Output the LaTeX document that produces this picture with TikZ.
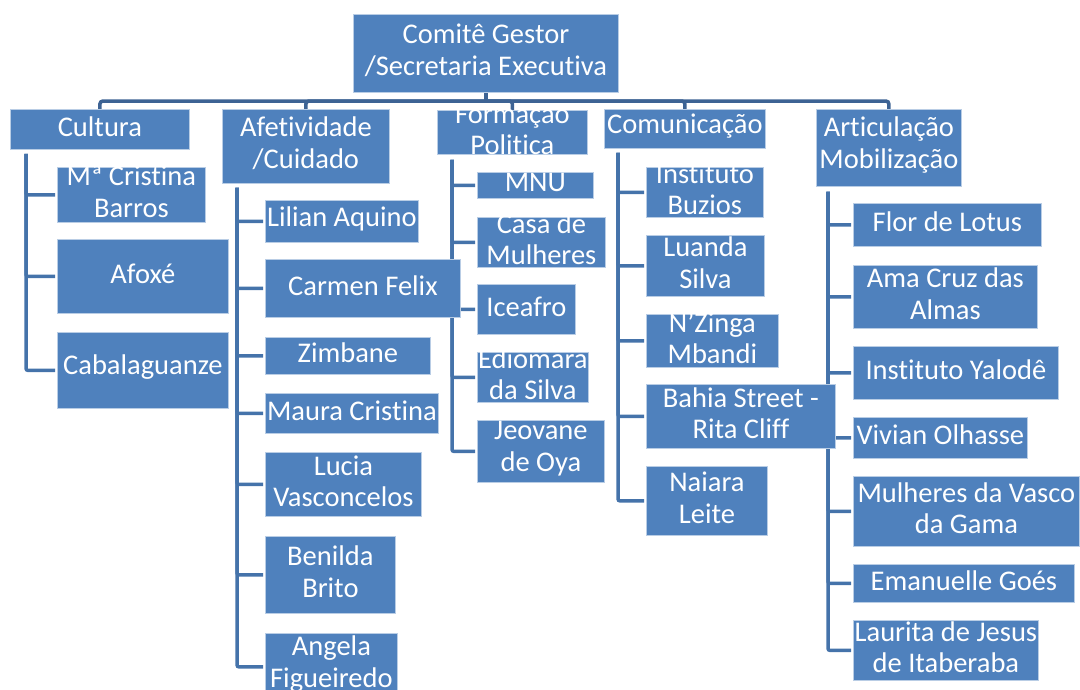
\documentclass[tikz,border=0pt]{standalone}
\usepackage{fontspec}
\setmainfont{Carlito}[Ligatures={NoCommon}]
\usepackage{tikz}
\usetikzlibrary{backgrounds}
\definecolor{boxblue}{HTML}{4F81BD}
\definecolor{boxedge}{HTML}{B9CDE5}
\definecolor{linkblue}{HTML}{4573AA}
\definecolor{barblue}{HTML}{3D6394}
\tikzset{
  orgbox/.style={draw=boxedge,line width=0.8pt,fill=boxblue,rectangle,inner sep=0pt,anchor=north west},
  orgtext/.style={text=white,align=center,inner sep=0pt,yshift=3pt,font=\fontsize{28.5}{31.5}\selectfont},
  link/.style={draw=linkblue,line width=3.5pt,rounded corners=2pt,shorten >=2pt},
  toplink/.style={draw=barblue,line width=3.5pt,rounded corners=3pt}
}
\begin{document}
\begin{tikzpicture}[x=1pt,y=-1pt]
\useasboundingbox (0,0) rectangle (1080,689);
% top level
\node[orgbox,minimum width=265pt,minimum height=78pt,label={[orgtext]center:Comitê Gestor\\/Secretaria Executiva}] (COMITE) at (353,14) {};
\node[orgbox,minimum width=179pt,minimum height=40pt,label={[orgtext]center:Cultura}] (CULTURA) at (10,109) {};
\node[orgbox,minimum width=167pt,minimum height=74pt,label={[orgtext]center:Afetividade\\/Cuidado}] (AFETIVIDADE) at (222,109) {};
\node[orgbox,minimum width=150pt,minimum height=44pt,label={[orgtext]center:Formação\\Politica}] (FORMACAO) at (437,110) {};
\node[orgbox,minimum width=161pt,minimum height=39pt,label={[orgtext]center:Comunicação}] (COMUNICACAO) at (604,109) {};
\node[orgbox,minimum width=145pt,minimum height=77pt,label={[orgtext]center:Articulação\\Mobilização}] (ARTICULACAO) at (816,109) {};
% Cultura
\node[orgbox,minimum width=148pt,minimum height=55pt,label={[orgtext]center:Mª Cristina\\Barros}] (CRISTINA_BARROS) at (57,167) {};
\node[orgbox,minimum width=171pt,minimum height=74pt,label={[orgtext]center:Afoxé}] (AFOXE) at (57,239) {};
\node[orgbox,minimum width=171pt,minimum height=76pt,label={[orgtext]center:Cabalaguanze}] (CABALAGUANZE) at (57,332) {};
% Afetividade
\node[orgbox,minimum width=153pt,minimum height=42pt,label={[orgtext]center:Lilian Aquino}] (LILIAN_AQUINO) at (265,200) {};
\node[orgbox,minimum width=195pt,minimum height=58pt,label={[orgtext]center:Carmen Felix}] (CARMEN_FELIX) at (265,259) {};
\node[orgbox,minimum width=165pt,minimum height=37pt,label={[orgtext]center:Zimbane}] (ZIMBANE) at (265,337) {};
\node[orgbox,minimum width=173pt,minimum height=40pt,label={[orgtext]center:Maura Cristina}] (MAURA_CRISTINA) at (265,393) {};
\node[orgbox,minimum width=156pt,minimum height=64pt,label={[orgtext]center:Lucia\\Vasconcelos}] (LUCIA_VASCONCELOS) at (265,452) {};
\node[orgbox,minimum width=130pt,minimum height=77pt,label={[orgtext]center:Benilda\\Brito}] (BENILDA_BRITO) at (265,536) {};
\node[orgbox,minimum width=132pt,minimum height=67pt,label={[orgtext]center:Angela\\Figueiredo}] (ANGELA_FIGUEIREDO) at (265,633) {};
% Formacao Politica
\node[orgbox,minimum width=116pt,minimum height=26pt,label={[orgtext]center:MNU}] (MNU) at (477,172) {};
\node[orgbox,minimum width=128pt,minimum height=50pt,label={[orgtext]center:Casa de\\Mulheres}] (CASA_MULHERES) at (477,217) {};
\node[orgbox,minimum width=98pt,minimum height=50pt,label={[orgtext]center:Iceafro}] (ICEAFRO) at (477,284) {};
\node[orgbox,minimum width=111pt,minimum height=50pt,label={[orgtext]center:Ediomara\\da Silva}] (EDIOMARA_SILVA) at (477,352) {};
\node[orgbox,minimum width=127pt,minimum height=62pt,label={[orgtext]center:Jeovane\\de Oya}] (JEOVANE_OYA) at (477,420) {};
% Comunicacao
\node[orgbox,minimum width=117pt,minimum height=50pt,label={[orgtext]center:Instituto\\Buzios}] (INSTITUTO_BUZIOS) at (646,167) {};
\node[orgbox,minimum width=118pt,minimum height=61pt,label={[orgtext]center:Luanda\\Silva}] (LUANDA_SILVA) at (646,235) {};
\node[orgbox,minimum width=132pt,minimum height=53pt,label={[orgtext]center:N’Zinga\\Mbandi}] (NZINGA_MBANDI) at (646,314) {};
\node[orgbox,minimum width=189pt,minimum height=64pt,label={[orgtext]center:Bahia Street -\\Rita Cliff}] (BAHIA_STREET) at (646,384) {};
\node[orgbox,minimum width=121pt,minimum height=69pt,label={[orgtext]center:Naiara\\Leite}] (NAIARA_LEITE) at (646,466) {};
% Articulacao
\node[orgbox,minimum width=188pt,minimum height=43pt,label={[orgtext]center:Flor de Lotus}] (FLOR_LOTUS) at (853,203) {};
\node[orgbox,minimum width=184pt,minimum height=63pt,label={[orgtext]center:Ama Cruz das\\Almas}] (AMA_CRUZ) at (853,265) {};
\node[orgbox,minimum width=205pt,minimum height=53pt,label={[orgtext]center:Instituto Yalodê}] (INSTITUTO_YALODE) at (853,346) {};
\node[orgbox,minimum width=174pt,minimum height=41pt,label={[orgtext]center:Vivian Olhasse}] (VIVIAN_OLHASSE) at (853,417) {};
\node[orgbox,minimum width=226pt,minimum height=70pt,label={[orgtext]center:Mulheres da Vasco\\da Gama}] (MULHERES_VASCO) at (853,476) {};
\node[orgbox,minimum width=221pt,minimum height=38pt,label={[orgtext]center:Emanuelle Goés}] (EMANUELLE_GOES) at (853,564) {};
\node[orgbox,minimum width=185pt,minimum height=60pt,label={[orgtext]center:Laurita de Jesus\\de Itaberaba}] (LAURITA_JESUS) at (853,620) {};
% connectors
\begin{scope}[on background layer]
\coordinate (BAR) at (0,101);
\draw[toplink] (COMITE.south) -- (COMITE.south |- BAR);
\foreach \n in {CULTURA,AFETIVIDADE,FORMACAO,COMUNICACAO,ARTICULACAO}
  \draw[toplink] (COMITE.south |- BAR) -| (\n.north);
\coordinate (CULTURA_LINE) at ([xshift=16pt,yshift=-4pt]CULTURA.south west);
\coordinate (AFETIVIDADE_LINE) at ([xshift=15pt,yshift=-4pt]AFETIVIDADE.south west);
\coordinate (FORMACAO_LINE) at ([xshift=15pt,yshift=-5pt]FORMACAO.south west);
\coordinate (COMUNICACAO_LINE) at ([xshift=14pt,yshift=-4pt]COMUNICACAO.south west);
\coordinate (ARTICULACAO_LINE) at ([xshift=12pt,yshift=-5pt]ARTICULACAO.south west);
\foreach \n in {CRISTINA_BARROS,AFOXE,CABALAGUANZE}
  \draw[link] (CULTURA_LINE) |- (\n.west);
\foreach \n in {LILIAN_AQUINO,CARMEN_FELIX,ZIMBANE,MAURA_CRISTINA,LUCIA_VASCONCELOS,BENILDA_BRITO,ANGELA_FIGUEIREDO}
  \draw[link] (AFETIVIDADE_LINE) |- (\n.west);
\foreach \n in {MNU,CASA_MULHERES,ICEAFRO,EDIOMARA_SILVA,JEOVANE_OYA}
  \draw[link] (FORMACAO_LINE) |- (\n.west);
\foreach \n in {INSTITUTO_BUZIOS,LUANDA_SILVA,NZINGA_MBANDI,BAHIA_STREET,NAIARA_LEITE}
  \draw[link] (COMUNICACAO_LINE) |- (\n.west);
\foreach \n in {FLOR_LOTUS,AMA_CRUZ,INSTITUTO_YALODE,VIVIAN_OLHASSE,MULHERES_VASCO,EMANUELLE_GOES,LAURITA_JESUS}
  \draw[link] (ARTICULACAO_LINE) |- (\n.west);
\end{scope}
\end{tikzpicture}
\end{document}
